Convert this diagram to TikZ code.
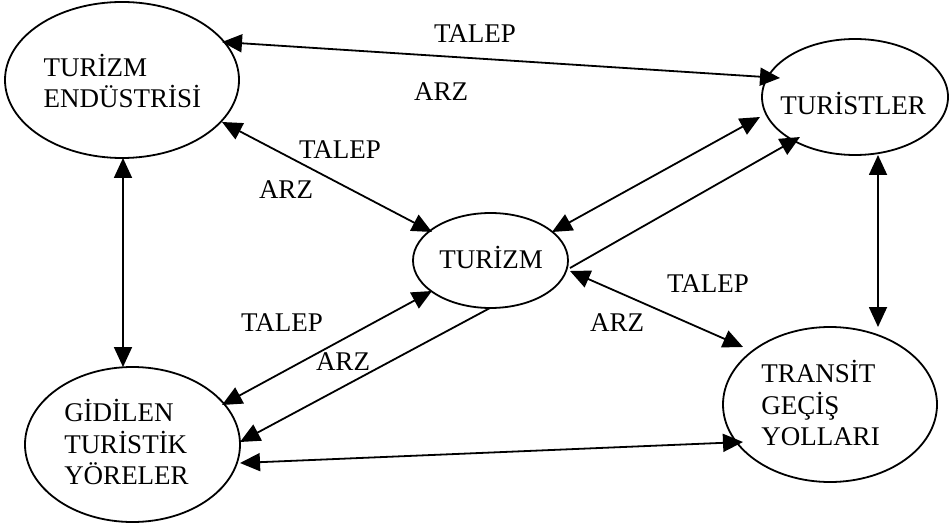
\documentclass[tikz,border=0pt]{standalone}
\usepackage{fontspec}
\setmainfont{Liberation Serif}
\usetikzlibrary{shapes.geometric,arrows.meta,calc}
\begin{document}
\begin{tikzpicture}[x=1pt,y=-1pt,
  oval/.style={draw,ellipse,line width=1.8pt,inner sep=0pt},
  txt/.style={inner sep=0pt,font=\fontsize{27}{31.5}\selectfont,align=left},
  lbl/.style={inner sep=0pt,font=\fontsize{27}{31}\selectfont},
  conn/.style={line width=1.8pt,{Triangle[length=20pt,width=18pt]}-{Triangle[length=20pt,width=18pt]}},
  conn1/.style={line width=1.8pt,-{Triangle[length=20pt,width=18pt]}}]
\useasboundingbox (0,0) rectangle (949,526);
\fill[white] (0,0) rectangle (949,526);
% ellipses
\node[oval,minimum width=234pt,minimum height=156pt] (te) at (122,80) {};
\node[oval,minimum width=186pt,minimum height=116pt] (tu) at (855,97) {};
\node[oval,minimum width=155pt,minimum height=95pt] (tz) at (490.5,260.5) {};
\node[oval,minimum width=215pt,minimum height=155pt] (gy) at (132.5,444.5) {};
\node[oval,minimum width=214pt,minimum height=155pt] (tr) at (830,404.5) {};
% texts
\node[txt] (te-t) at (122.5,81) {TURİZM\\ENDÜSTRİSİ};
\node[txt] (tu-t) at (853,103) {TURİSTLER};
\node[txt] (tz-t) at (491,257) {TURİZM};
\node[txt] (gy-t) at (126.5,442) {GİDİLEN\\TURİSTİK\\YÖRELER};
\node[txt] (tr-t) at (820.5,403) {TRANSİT\\GEÇİŞ\\YOLLARI};
% labels
\node[lbl] (l1) at (475,34) {TALEP};
\node[lbl] (l2) at (441,92) {ARZ};
\node[lbl] (l3) at (340,150) {TALEP};
\node[lbl] (l4) at (286,190) {ARZ};
\node[lbl] (l5) at (282,323) {TALEP};
\node[lbl] (l6) at (343,362) {ARZ};
\node[lbl] (l7) at (708,284) {TALEP};
\node[lbl] (l8) at (617,323) {ARZ};
% connectors
\draw[conn] ($(te)+(100,-38)$) -- ($(tu)+(-75,-19)$);
\draw[conn] ($(te)+(100,42)$) -- ($(tz)+(-58.5,-28.5)$);
\draw[conn] ($(te)+(1,78)$) -- ($(gy)+(-9.5,-77.5)$);
\draw[conn] ($(tu)+(-95,20)$) -- ($(tz)+(61.5,-28.5)$);
\draw[conn1] ($(tz)+(79.5,7.5)$) -- ($(tu)+(-55,40)$);
\draw[conn] ($(tu)+(23,58)$) -- ($(tr)+(48,-77.5)$);
\draw[conn] ($(tz)+(79.5,10.5)$) -- ($(tr)+(-87,-57.5)$);
\draw[conn] ($(tz)+(-58.5,30.5)$) -- ($(gy)+(89.5,-39.5)$);
\draw[conn1] ($(tz)+(-0.5,47.5)$) -- ($(gy)+(107.5,-2.5)$);
\draw[conn] ($(gy)+(107.5,18.5)$) -- ($(tr)+(-87,37.5)$);
\end{tikzpicture}
\end{document}
